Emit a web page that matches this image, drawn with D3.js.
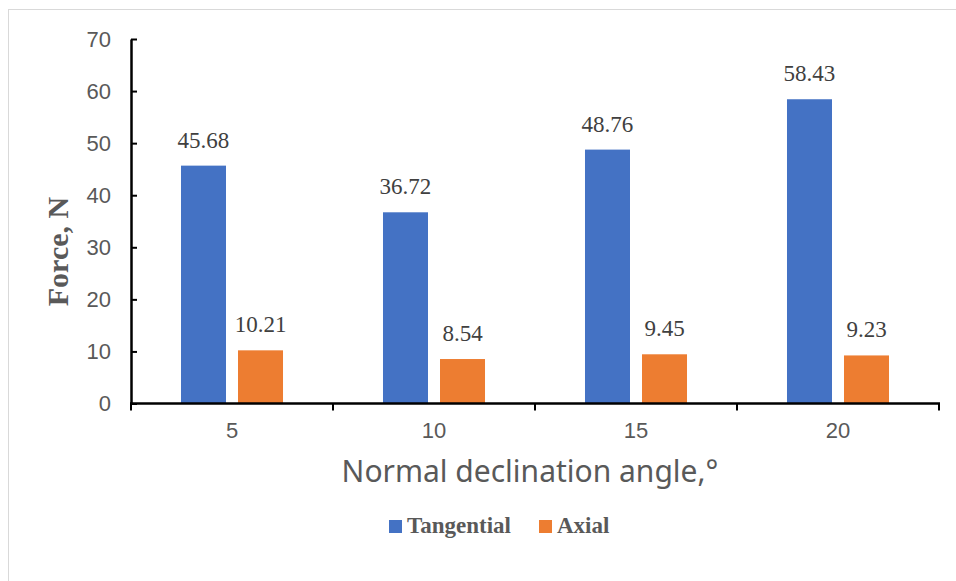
<!DOCTYPE html>
<html>
<head>
<meta charset="utf-8">
<script src="https://cdn.jsdelivr.net/npm/d3@7"></script>
<style>
  html, body { margin: 0; padding: 0; background: #fff; }
  svg { display: block; }
</style>
</head>
<body>
<svg id="chart" width="956" height="581"></svg>
<script>
const categories = ["5", "10", "15", "20"];
const seriesNames = ["Tangential", "Axial"];
const tangential = [45.68, 36.72, 48.76, 58.43];
const axial = [10.21, 8.54, 9.45, 9.23];
const yTicks = [0, 10, 20, 30, 40, 50, 60, 70];
const colors = ["#4472C4", "#ED7D31"];

(function () {
const seriesValues = [tangential, axial];
const rows = categories.map((c, i) => ({
  cat: c,
  vals: seriesNames.map((s, j) => ({ series: s, value: seriesValues[j][i], color: colors[j] }))
}));

const svg = d3.select("#chart");

// chart border
svg.append("rect")
  .attr("x", 8.5).attr("y", 9.5).attr("width", 1000).attr("height", 1000)
  .attr("fill", "none").attr("stroke", "#d9d9d9").attr("stroke-width", 1);

const pLeft = 131, pRight = 939, pTop = 39, pBottom = 403.5;

const x0 = d3.scaleBand().domain(categories).range([pLeft, pRight]).padding(0);
const x1 = d3.scaleBand().domain(seriesNames).range([0, x0.bandwidth()])
  .paddingInner(0.2105).paddingOuter(0.877);
const y = d3.scaleLinear().domain([0, 70]).range([pBottom, pTop]);

// bars
const g = svg.append("g");
const groups = g.selectAll("g.cat").data(rows).join("g")
  .attr("class", "cat")
  .attr("transform", d => `translate(${x0(d.cat)},0)`);
groups.selectAll("rect").data(d => d.vals).join("rect")
  .attr("x", d => x1(d.series))
  .attr("y", d => y(d.value))
  .attr("width", x1.bandwidth())
  .attr("height", d => y(0) - y(d.value))
  .attr("fill", d => d.color);

// value labels
groups.selectAll("text.val").data(d => d.vals).join("text")
  .attr("class", "val")
  .attr("x", d => x1(d.series) + x1.bandwidth() / 2)
  .attr("y", d => y(d.value) - 18)
  .attr("text-anchor", "middle")
  .attr("font-family", "'Liberation Serif', 'Times New Roman', serif")
  .attr("font-size", 23)
  .attr("fill", "#404040")
  .text(d => d.value.toFixed(2));

// y axis
const yAxis = d3.axisLeft(y).tickValues(yTicks).tickSizeInner(-6).tickSizeOuter(0).tickPadding(20)
  .tickFormat(d3.format("d"));
const yg = svg.append("g").attr("transform", `translate(${pLeft},0)`).call(yAxis);
yg.select(".domain").attr("stroke", "#000").attr("stroke-width", 2.5);
yg.selectAll(".tick line").attr("stroke", "#000").attr("stroke-width", 2);
yg.selectAll(".tick text")
  .attr("font-family", "'Liberation Sans', Arial, sans-serif")
  .attr("font-size", 22).attr("fill", "#595959");

// x axis
const xg = svg.append("g");
xg.append("line")
  .attr("x1", pLeft - 1).attr("x2", pRight + 1)
  .attr("y1", y(0)).attr("y2", y(0))
  .attr("stroke", "#000").attr("stroke-width", 2.5);
const boundaries = categories.map(c => x0(c)).concat([x0(categories[categories.length - 1]) + x0.bandwidth()]);
xg.selectAll("line.tk").data(boundaries).join("line")
  .attr("class", "tk")
  .attr("x1", d => d).attr("x2", d => d)
  .attr("y1", y(0)).attr("y2", y(0) + 7)
  .attr("stroke", "#000").attr("stroke-width", 2);
xg.selectAll("text").data(categories).join("text")
  .attr("x", d => x0(d) + x0.bandwidth() / 2)
  .attr("y", 438)
  .attr("text-anchor", "middle")
  .attr("font-family", "'Liberation Sans', Arial, sans-serif")
  .attr("font-size", 22).attr("fill", "#595959")
  .text(d => d);

// axis titles
svg.append("text")
  .attr("x", 530).attr("y", 482)
  .attr("text-anchor", "middle")
  .attr("font-family", "'Noto Sans', 'Open Sans', sans-serif")
  .attr("font-size", 30).attr("fill", "#595959")
  .text("Normal declination angle,°");

svg.append("text")
  .attr("transform", "translate(68,251.5) rotate(-90)")
  .attr("text-anchor", "middle")
  .attr("font-family", "'Liberation Serif', 'Times New Roman', serif")
  .attr("font-weight", "bold")
  .attr("font-size", 30).attr("fill", "#595959")
  .text("Force, N");

// legend
const legendItems = [
  { name: seriesNames[0], color: colors[0], x: 389 },
  { name: seriesNames[1], color: colors[1], x: 539 }
];
const lg = svg.append("g");
const li = lg.selectAll("g").data(legendItems).join("g")
  .attr("transform", d => `translate(${d.x},520)`);
li.append("rect").attr("width", 13).attr("height", 13).attr("fill", d => d.color);
li.append("text")
  .attr("x", 18).attr("y", 13)
  .attr("font-family", "'Liberation Serif', 'Times New Roman', serif")
  .attr("font-weight", "bold")
  .attr("font-size", 23).attr("fill", "#595959")
  .text(d => d.name);
})();
</script>
</body>
</html>
